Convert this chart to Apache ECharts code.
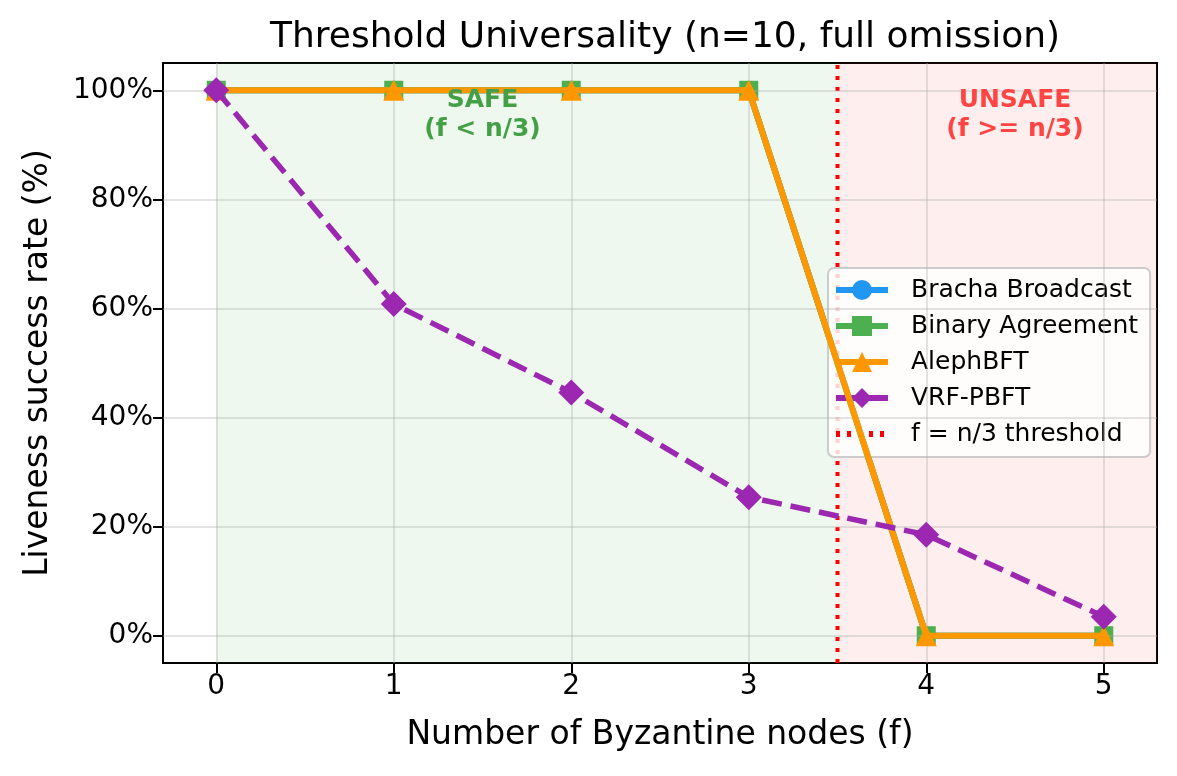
<!DOCTYPE html>
<html>
<head>
<meta charset="utf-8">
<script src="https://cdn.jsdelivr.net/npm/echarts@6/dist/echarts.min.js"></script>
<style>
html,body{margin:0;padding:0;background:#fff;}
#chart{width:1177px;height:776px;}
</style>
</head>
<body>
<div id="chart"></div>
<script>
// ---- data ----
const byzantineNodes = [0, 1, 2, 3, 4, 5];
const brachaBroadcast = [100, 100, 100, 100, 0, 0];
const binaryAgreement = [100, 100, 100, 100, 0, 0];
const alephBFT = [100, 100, 100, 100, 0, 0];
const vrfPBFT = [100, 60.8, 44.6, 25.4, 18.5, 3.5];
const yTicks = [0, 20, 40, 60, 80, 100];
const xTicks = [0, 1, 2, 3, 4, 5];
const thresholdX = 3.5;
const seriesNames = ['Bracha Broadcast', 'Binary Agreement', 'AlephBFT', 'VRF-PBFT', 'f = n/3 threshold'];

const FONT = 'DejaVu Sans';
const pts = arr => byzantineNodes.map((x, i) => [x, arr[i]]);
const gridColor = 'rgba(176,176,176,0.35)';

const chart = echarts.init(document.getElementById('chart'), null, {renderer: 'canvas'});
const option = {
  animation: false,
  backgroundColor: '#ffffff',
  textStyle: {fontFamily: FONT},
  title: {
    text: 'Threshold Universality (n=10, full omission)',
    left: 660, top: 15, textAlign: 'center',
    textStyle: {fontFamily: FONT, fontSize: 36, fontWeight: 'normal', color: '#000'}
  },
  grid: {left: 163, right: 20, top: 63, bottom: 113, show: true, borderColor: '#000', borderWidth: 2, backgroundColor: 'transparent'},
  xAxis: {
    type: 'value', min: -0.3, max: 5.3,
    name: 'Number of Byzantine nodes (f)', nameLocation: 'middle', nameGap: 56,
    nameTextStyle: {fontFamily: FONT, fontSize: 33, color: '#000'},
    axisLine: {show: true, onZero: false, lineStyle: {color: '#000', width: 2}},
    axisTick: {show: true, customValues: xTicks, length: 10, lineStyle: {color: '#000', width: 2}},
    axisLabel: {customValues: xTicks, fontFamily: FONT, fontSize: 28, color: '#000', margin: 10},
    splitLine: {show: false}
  },
  yAxis: {
    type: 'value', min: -5, max: 105,
    name: 'Liveness success rate (%)', nameLocation: 'middle', nameGap: 108, nameRotate: 90,
    nameTextStyle: {fontFamily: FONT, fontSize: 33, color: '#000'},
    axisLine: {show: true, onZero: false, lineStyle: {color: '#000', width: 2}},
    axisTick: {show: true, customValues: yTicks, length: 10, lineStyle: {color: '#000', width: 2}},
    axisLabel: {customValues: yTicks, formatter: '{value}%', fontFamily: FONT, fontSize: 28, color: '#000', margin: 10},
    splitLine: {show: false}
  },
  legend: {
    orient: 'vertical', left: 828, top: 268,
    data: [
      {name: seriesNames[0]},
      {name: seriesNames[1]},
      {name: seriesNames[2]},
      {name: seriesNames[3], lineStyle: {type: 'solid'}},
      {name: seriesNames[4], itemStyle: {opacity: 0}}
    ],
    itemWidth: 52, itemHeight: 25, itemGap: 6,
    padding: [7, 12, 8, 5],
    lineStyle: {width: 6},
    backgroundColor: 'rgba(255,255,255,0.82)', borderColor: '#cccccc', borderWidth: 2, borderRadius: 6,
    textStyle: {fontFamily: FONT, fontSize: 25, color: '#000', lineHeight: 30, padding: [0, 0, 0, 18]},
    selectedMode: false
  },
  series: [
    {
      name: '__bg', type: 'line', data: [], z: 0, silent: true,
      markArea: {
        silent: true,
        data: [
          [{xAxis: 0, itemStyle: {color: 'rgba(76,175,80,0.09)'}}, {xAxis: thresholdX}],
          [{xAxis: thresholdX, itemStyle: {color: 'rgba(244,67,54,0.09)'}}, {xAxis: 5.3}]
        ]
      }
    },
    {
      name: '__grid', type: 'line', data: [], z: 1, silent: true,
      markLine: {
        silent: true, symbol: 'none', label: {show: false},
        lineStyle: {color: gridColor, width: 2, type: 'solid'},
        data: xTicks.map(v => ({xAxis: v})).concat(yTicks.map(v => ({yAxis: v})))
      }
    },
    {
      name: seriesNames[0], type: 'line', data: pts(brachaBroadcast), z: 3,
      color: '#2196F3', symbol: 'circle', symbolSize: 19,
      lineStyle: {width: 6, color: '#2196F3'}, itemStyle: {color: '#2196F3'}
    },
    {
      name: seriesNames[1], type: 'line', data: pts(binaryAgreement), z: 4,
      color: '#4CAF50', symbol: 'rect', symbolSize: 19,
      lineStyle: {width: 6, color: '#4CAF50'}, itemStyle: {color: '#4CAF50'}
    },
    {
      name: seriesNames[2], type: 'line', data: pts(alephBFT), z: 5,
      color: '#FF9800', symbol: 'triangle', symbolSize: 21,
      lineStyle: {width: 6, color: '#FF9800'}, itemStyle: {color: '#FF9800'}
    },
    {
      name: seriesNames[3], type: 'line', data: pts(vrfPBFT), z: 6,
      color: '#9C27B0', symbol: 'diamond', symbolSize: 26,
      lineStyle: {width: 5.5, color: '#9C27B0', type: [20, 9]}, itemStyle: {color: '#9C27B0'}
    },
    {
      name: seriesNames[4], type: 'line', data: [[thresholdX, -5], [thresholdX, 105]], z: 2,
      color: '#ff0000', symbol: 'none',
      lineStyle: {width: 4, color: '#ff0000', type: [4, 7]}
    },
    {
      name: '__ann', type: 'scatter', z: 7, silent: true, symbolSize: 0,
      itemStyle: {opacity: 1},
      data: [
        {value: [1.5, 95.5], label: {show: true, formatter: 'SAFE\n(f < n/3)', color: '#43a047'}},
        {value: [4.5, 95.5], label: {show: true, formatter: 'UNSAFE\n(f >= n/3)', color: '#ff4444'}}
      ],
      label: {show: true, position: 'inside', fontFamily: FONT, fontSize: 25, fontWeight: 'bold', lineHeight: 29, align: 'center', verticalAlign: 'middle'}
    }
  ]
};
chart.setOption(option);
</script>
</body>
</html>
